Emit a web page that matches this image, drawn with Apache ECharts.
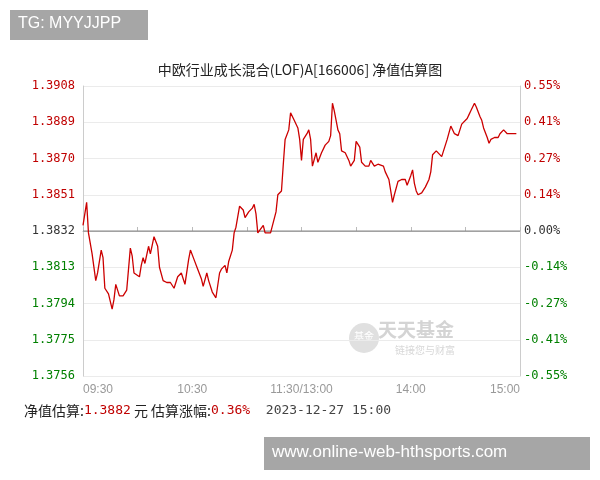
<!DOCTYPE html>
<html><head><meta charset="utf-8">
<script src="https://cdn.jsdelivr.net/npm/echarts@6/dist/echarts.min.js"></script>
<style>html,body{margin:0;padding:0;background:#fff}#c{width:600px;height:480px}</style>
</head><body><div id="c"></div>
<script>
// minutes since 09:30 (lunch break removed; 120 = 11:30/13:00)
const minutes = [0,2,3,5,7,8,10,11,12,14,16,17,18,20,22,24,26,27,28,29,31,32,33,34,36,37,39,41,42,44,46,48,50,52,54,56,57,58,59,61,63,65,66,68,69,71,73,75,76,78,79,80,82,83,84,86,88,89,91,93,94,95,96,97,99,100,101,103,104,106,107,109,110,111,112,113,114,115,116,118,119,
120,121,123,124,125,126,128,129,131,133,135,136,137,138,140,141,142,144,146,147,149,150,152,153,155,157,158,160,162,163,165,166,168,169,170,171,173,174,175,177,178,180,181,182,183,184,186,188,190,191,192,194,195,197,198,200,201,202,204,205,206,208,209,211,212,213,215,216,218,219,220,222,223,224,226,228,229,231,233,234,236,238];
const navValues = [1.3835,1.3847,1.3831,1.3820,1.3806,1.3810,1.3822,1.3818,1.3802,1.3799,1.3791,1.3796,1.3804,1.3798,1.3798,1.3801,1.3823,1.3819,1.3810,1.3811,1.3808,1.3814,1.3818,1.3815,1.3824,1.3820,1.3829,1.3824,1.3813,1.3806,1.3805,1.3805,1.3802,1.3808,1.3810,1.3804,1.3803,1.3817,1.3822,1.3817,1.3812,1.3807,1.3803,1.3810,1.3806,1.3800,1.3797,1.3810,1.3812,1.3814,1.3810,1.3816,1.3822,1.3831,1.3834,1.3845,1.3843,1.3839,1.3842,1.3844,1.3846,1.3841,1.3831,1.3831,1.3835,1.3831,1.3831,1.3831,1.3831,1.3842,1.3851,1.3853,1.3867,1.3880,1.3879,1.3885,1.3894,1.3893,1.3890,1.3886,1.3880,
1.3869,1.3880,1.3883,1.3885,1.3880,1.3866,1.3873,1.3868,1.3873,1.3877,1.3879,1.3882,1.3899,1.3895,1.3885,1.3883,1.3874,1.3873,1.3869,1.3866,1.3869,1.3879,1.3876,1.3868,1.3866,1.3866,1.3869,1.3866,1.3867,1.3868,1.3866,1.3863,1.3859,1.3853,1.3847,1.3851,1.3858,1.3859,1.3859,1.3859,1.3856,1.3861,1.3864,1.3857,1.3853,1.3851,1.3852,1.3855,1.3859,1.3863,1.3872,1.3874,1.3873,1.3871,1.3872,1.3880,1.3881,1.3887,1.3883,1.3882,1.3882,1.3888,1.3888,1.3891,1.3893,1.3895,1.3899,1.3897,1.3892,1.3890,1.3886,1.3881,1.3878,1.3880,1.3881,1.3881,1.3883,1.3885,1.3883,1.3884,1.3883,1.3883];
const timeLabels = ['09:30','10:30','11:30/13:00','14:00','15:00'];
const leftLabels = ['1.3756','1.3775','1.3794','1.3813','1.3832','1.3851','1.3870','1.3889','1.3908'];
const rightLabels = ['-0.55%','-0.41%','-0.27%','-0.14%','0.00%','0.14%','0.27%','0.41%','0.55%'];
const base = 1.3832;

const data = minutes.map((m, i) => [m, navValues[i]]);
const chart = echarts.init(document.getElementById('c'));
const mono = '"DejaVu Sans Mono", monospace';
const rich = {cr: {color: '#c00000'}, cg: {color: '#008000'}, ck: {color: '#333'}};
chart.setOption({
  animation: false,
  title: {text: '中欧行业成长混合(LOF)A[166006] 净值估算图', left: 'center', top: 58,
    textStyle: {fontSize: 14, fontWeight: 'normal', color: '#222', fontFamily: '"Noto Sans CJK SC", sans-serif'}},
  grid: {left: 83, right: 80, top: 86, bottom: 104},
  xAxis: {type: 'value', min: 0, max: 240, interval: 30,
    axisLine: {lineStyle: {color: '#bbb'}}, axisTick: {inside: true, length: 4, lineStyle: {color: '#bbb'}},
    splitLine: {show: false},
    axisLabel: {color: '#999', fontSize: 12, fontFamily: 'Arial, sans-serif', showMinLabel: true, showMaxLabel: true,
      alignMinLabel: 'left', alignMaxLabel: 'right',
      formatter: v => (v % 60 === 0) ? timeLabels[v / 60] : ''}},
  yAxis: [
    {type: 'value', min: 1.3756, max: 1.3908, interval: 0.0019, axisLine: {show: true, lineStyle: {color: '#ccc'}},
     axisTick: {show: false}, splitLine: {lineStyle: {color: '#ebebeb'}},
     axisLabel: {fontSize: 12, fontFamily: mono, margin: 8, rich: rich,
       formatter: (v) => { const i = Math.round((v - 1.3756) / 0.0019); return '{c' + (i > 4 ? 'r' : i < 4 ? 'g' : 'k') + '|' + leftLabels[i] + '}'; }}},
    {type: 'value', min: -0.55, max: 0.55, interval: 0.1375, axisLine: {show: true, lineStyle: {color: '#ccc'}},
     axisTick: {show: false}, splitLine: {show: false},
     axisLabel: {fontSize: 12, fontFamily: mono, margin: 4, rich: rich,
       formatter: (v) => { const i = Math.round((v + 0.55) / 0.1375); return '{c' + (i > 4 ? 'r' : i < 4 ? 'g' : 'k') + '|' + rightLabels[i] + '}'; }}}
  ],
  series: [
    {type: 'line', data: [[0, base], [240, base]], showSymbol: false, silent: true, lineStyle: {color: '#888', width: 1}, z: 1},
    {type: 'line', data: data, showSymbol: false, lineStyle: {color: '#cc0000', width: 1.3}, z: 2}
  ],
  graphic: [
    {type: 'rect', left: 10, top: 10, shape: {width: 138, height: 30}, style: {fill: '#a6a6a6'}},
    {type: 'text', left: 18, top: 16, style: {text: 'TG: MYYJJPP', fill: '#fff', font: '16px Arial, sans-serif'}},
    {type: 'text', left: 378, top: 320, style: {text: '天天基金', fill: '#d4d4d4', font: 'bold 19px "Noto Sans CJK SC"'}},
    {type: 'text', left: 395, top: 345, style: {text: '链接您与财富', fill: '#d8d8d8', font: '10px "Noto Sans CJK SC"'}},
    {type: 'circle', shape: {cx: 364, cy: 338, r: 15}, style: {fill: '#e0e0e0'}},
    {type: 'text', left: 354, top: 331, style: {text: '基金', fill: '#fff', font: '10px "Noto Sans CJK SC"'}},
    {type: 'text', left: 24, top: 404, style: {rich: {
        a: {fill: '#222', font: '14px "Noto Sans CJK SC"'},
        r: {fill: '#c00000', font: '13px ' + mono},
        d: {fill: '#444', font: '13px ' + mono}},
      text: '{a|净值估算:}{r|1.3882}{a| 元 估算涨幅:}{r|0.36%}{d|  2023-12-27 15:00}'}},
    {type: 'rect', left: 264, top: 437, shape: {width: 326, height: 33}, style: {fill: '#a6a6a6'}},
    {type: 'text', left: 272, top: 444, style: {text: 'www.online-web-hthsports.com', fill: '#fff', font: '17px Arial, sans-serif'}}
  ]
});
</script></body></html>
